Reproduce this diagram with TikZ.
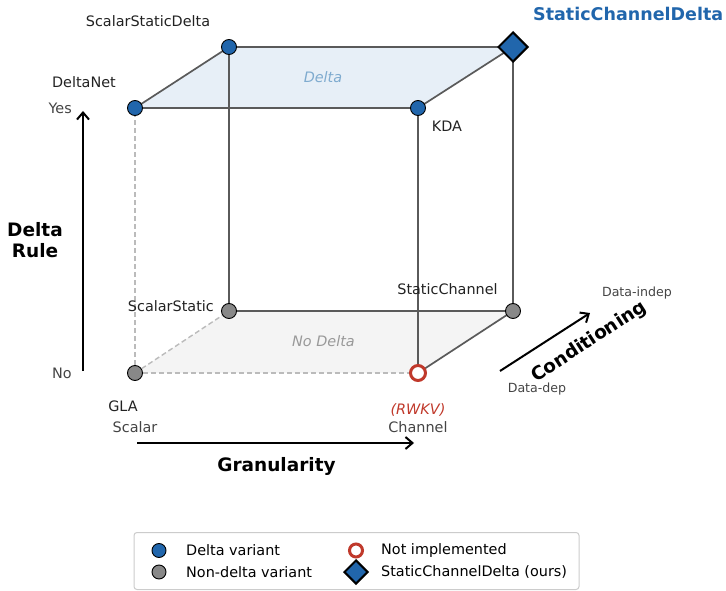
\documentclass[tikz,border=0pt]{standalone}
\usepackage{fontspec}
\setmainfont{DejaVu Sans}
\usetikzlibrary{arrows.meta,shapes.geometric}
\definecolor{dblue}{HTML}{2166AC}
\definecolor{ngray}{HTML}{888888}
\definecolor{rred}{HTML}{C0392B}
\definecolor{edgec}{HTML}{5A5A5A}
\definecolor{dashc}{HTML}{BBBBBB}
\definecolor{topf}{HTML}{E7EFF7}
\definecolor{botf}{HTML}{F4F4F4}
\definecolor{lbl}{HTML}{222222}
\definecolor{tick}{HTML}{444444}
\definecolor{dtext}{HTML}{7FABCF}
\definecolor{ndtext}{HTML}{999999}
\begin{document}
\begin{tikzpicture}[x=1pt,y=-1pt,
  solidedge/.style={draw=edgec,line width=1.7pt},
  dashedge/.style={draw=dashc,line width=1.4pt,dash pattern=on 5pt off 3pt},
  deltapt/.style={circle,fill=dblue,draw=black,line width=0.9pt,minimum size=15pt,inner sep=0pt},
  nondeltapt/.style={circle,fill=ngray,draw=black,line width=0.9pt,minimum size=15pt,inner sep=0pt},
  notimpl/.style={circle,fill=white,draw=rred,line width=3pt,minimum size=15pt,inner sep=0pt},
  ourspt/.style={diamond,fill=dblue,draw=black,line width=2pt,minimum size=30pt,inner sep=0pt},
  lab/.style={text=lbl,font=\fontsize{14.4}{17}\selectfont,inner sep=0pt},
  ticklab/.style={text=tick,font=\fontsize{14.4}{17}\selectfont,inner sep=0pt},
  smalltick/.style={text=tick,font=\fontsize{12.6}{15}\selectfont,inner sep=0pt},
  axlab/.style={text=black,font=\bfseries\fontsize{18.5}{21}\selectfont,inner sep=0pt,align=center},
  axarrow/.style={draw=black,line width=2pt,-{Straight Barb[length=7pt,width=12pt,line width=2pt]}},
  legtext/.style={text=black,font=\fontsize{14.4}{17}\selectfont,inner sep=0pt,anchor=west}
]
\useasboundingbox (0,0) rectangle (726,591);
% cube corners
\coordinate (gla) at (135,373);
\coordinate (rwkv) at (418,373);
\coordinate (ss) at (229,311);
\coordinate (sc) at (513,311);
\coordinate (dn) at (135,108);
\coordinate (kda) at (418,108);
\coordinate (ssd) at (229,47);
\coordinate (scd) at (513,47);
% faces
\fill[topf] (dn) -- (ssd) -- (scd) -- (kda) -- cycle;
\fill[botf] (gla) -- (ss) -- (sc) -- (rwkv) -- cycle;
% dashed hidden edges
\draw[dashedge] (gla) -- (dn);
\draw[dashedge] (gla) -- (ss);
\draw[dashedge] (gla) -- (rwkv);
% solid edges
\draw[solidedge] (ss) -- (sc);
\draw[solidedge] (sc) -- (rwkv);
\draw[solidedge] (ssd) -- (ss);
\draw[solidedge] (scd) -- (sc);
\draw[solidedge] (kda) -- (rwkv);
\draw[solidedge] (dn) -- (ssd) -- (scd) -- (kda) -- cycle;
% face labels
\node[text=dtext,font=\itshape\fontsize{14.4}{17}\selectfont] (tDelta) at (323,77) {Delta};
\node[text=ndtext,font=\itshape\fontsize{14.4}{17}\selectfont] (tNoDelta) at (323.5,341) {No Delta};
% markers
\node[nondeltapt] (mgla) at (gla) {};
\node[nondeltapt] (mss) at (ss) {};
\node[nondeltapt] (msc) at (sc) {};
\node[notimpl] (mrwkv) at (rwkv) {};
\node[deltapt] (mdn) at (dn) {};
\node[deltapt] (mkda) at (kda) {};
\node[deltapt] (mssd) at (ssd) {};
\node[ourspt] (mscd) at (scd) {};
% point labels
\node[lab] (lssd) at (148,21) {ScalarStaticDelta};
\node[lab] (ldn) at (84,82) {DeltaNet};
\node[lab] (lkda) at (447,126) {KDA};
\node[text=dblue,font=\bfseries\fontsize{17.5}{20}\selectfont,inner sep=0pt,anchor=west] (lscd) at (533,14) {StaticChannelDelta};
\node[lab,anchor=east] (lss) at (214,306) {ScalarStatic};
\node[lab] (lsc) at (447.5,289) {StaticChannel};
\node[lab] (lgla) at (123,406) {GLA};
\node[text=rred,font=\itshape\fontsize{14.4}{17}\selectfont,inner sep=0pt] (lrwkv) at (418,410) {(RWKV)};
% ticks
\node[ticklab,anchor=east] (tyes) at (72,108) {Yes};
\node[ticklab,anchor=east] (tno) at (72,373) {No};
\node[ticklab] (tscalar) at (135,427) {Scalar};
\node[ticklab] (tchannel) at (418,427) {Channel};
\node[smalltick] (tdi) at (637,293) {Data-indep};
\node[smalltick] (tdd) at (537,389) {Data-dep};
% axes
\coordinate (dr0) at (83,371);
\coordinate (dr1) at (83,111);
\draw[axarrow] (dr0) -- (dr1);
\node[axlab] (ldr) at (35,240) {Delta\\Rule};
\coordinate (g0) at (137,443);
\coordinate (g1) at (414,443);
\draw[axarrow] (g0) -- (g1);
\node[axlab] (lgran) at (276.5,466) {Granularity};
\coordinate (c0) at (500,371);
\coordinate (c1) at (590,313);
\draw[axarrow] (c0) -- (c1);
\node[axlab,rotate=33] (lcond) at (589,342) {Conditioning};
% legend
\node[draw=black!20,line width=1pt,rounded corners=3pt,fill=white,minimum width=445pt,minimum height=57pt,inner sep=0pt] (legbox) at (356.5,561) {};
\node[deltapt,minimum size=14pt] (lg1) at (159,550.5) {};
\node[legtext] (lt1) at (186,550.5) {Delta variant};
\node[nondeltapt,minimum size=14pt] (lg2) at (159,572) {};
\node[legtext] (lt2) at (186,572) {Non-delta variant};
\node[notimpl,minimum size=13pt] (lg3) at (356,550.5) {};
\node[legtext] (lt3) at (381,550.5) {Not implemented};
\node[ourspt,minimum size=24pt] (lg4) at (356,572) {};
\node[legtext] (lt4) at (381,572) {StaticChannelDelta (ours)};
\end{tikzpicture}
\end{document}
